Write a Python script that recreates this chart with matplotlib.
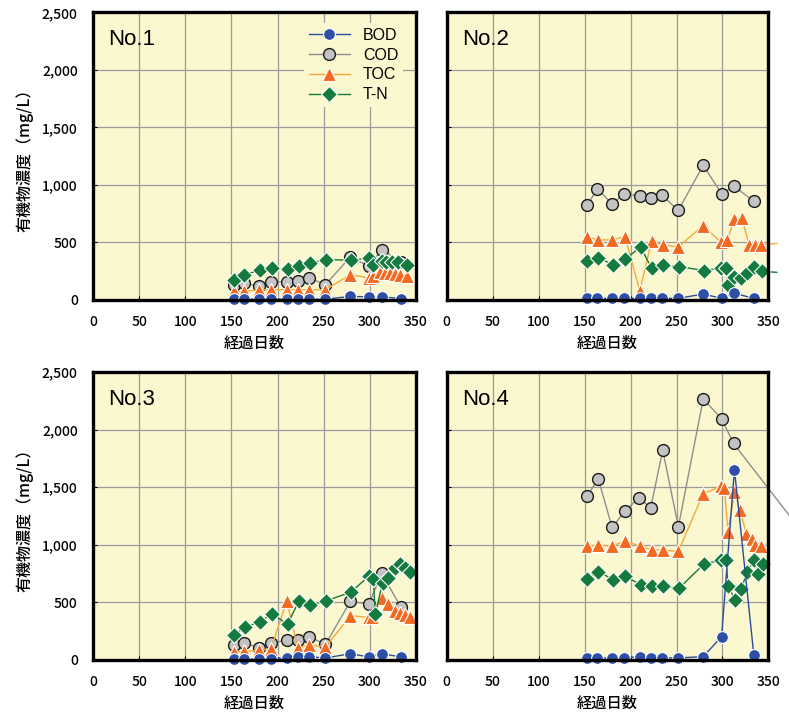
import matplotlib
matplotlib.use("Agg")
import matplotlib.pyplot as plt
from matplotlib.ticker import FuncFormatter, MultipleLocator

plt.rcParams['font.family'] = ['Noto Sans CJK JP', 'DejaVu Sans']

# 経過日数と各項目の濃度 (mg/L)  -- 図から読み取った値
days_a = [153, 164, 180, 193, 210, 222, 234, 252, 279, 299, 313, 334]

# No.1
bod_1 = [5, 5, 5, 5, 5, 5, 5, 5, 28, 25, 25, 10]
cod_1 = [131, 145, 116, 154, 157, 166, 189, 131, 372, 291, 436, 330]
toc_days_1 = [153, 164, 180, 193, 210, 222, 234, 252, 279, 299, 304, 311, 317, 322, 327, 333, 340]
toc_1 = [73, 73, 87, 87, 87, 87, 87, 87, 218, 189, 203, 240, 235, 230, 225, 218, 209]
tn_days_1 = [153, 164, 181, 194, 211, 223, 235, 253, 280, 299, 304, 313, 318, 324, 331, 340]
tn_1 = [174, 218, 256, 276, 267, 297, 320, 349, 343, 363, 305, 334, 330, 330, 330, 305]

# No.2
bod_2 = [12, 12, 12, 12, 12, 12, 12, 12, 49, 12, 55, 12]
cod_2 = [826, 962, 834, 919, 904, 884, 910, 776, 1169, 922, 985, 855]
toc_days_2 = [153, 165, 180, 194, 210, 223, 235, 252, 279, 298, 305, 313, 321, 329, 335, 342, 359]
toc_2 = [544, 520, 520, 549, 78, 509, 477, 459, 645, 500, 515, 703, 709, 477, 477, 477, 490]
tn_days_2 = [153, 165, 181, 194, 211, 223, 235, 253, 280, 298, 304, 306, 313, 320, 327, 334, 343, 359]
tn_2 = [340, 363, 305, 355, 456, 273, 305, 288, 253, 276, 276, 131, 201, 189, 230, 282, 247, 238]

# No.3
bod_3 = [3, 3, 6, 9, 14, 20, 26, 14, 52, 23, 52, 23]
cod_3 = [124, 147, 101, 147, 167, 167, 201, 132, 506, 483, 750, 454]
toc_days_3 = [153, 164, 180, 193, 210, 222, 234, 252, 279, 299, 303, 313, 320, 327, 333, 338, 344]
toc_3 = [66, 72, 80, 95, 511, 101, 129, 109, 382, 368, 368, 532, 483, 425, 405, 388, 368]
tn_days_3 = [153, 165, 181, 194, 211, 223, 235, 253, 280, 299, 304, 306, 314, 320, 327, 333, 338, 344]
tn_3 = [216, 282, 330, 397, 310, 506, 474, 511, 589, 727, 698, 397, 670, 713, 799, 828, 799, 761]

# No.4
bod_4 = [15, 15, 15, 15, 26, 15, 15, 15, 26, 199, 1652, 44]
cod_days_4 = [153, 165, 180, 194, 209, 222, 235, 252, 279, 299, 312, 385]
cod_4 = [1427, 1570, 1149, 1295, 1406, 1322, 1822, 1155, 2266, 2096, 1880, 1126]
toc_days_4 = [153, 165, 180, 194, 210, 223, 235, 252, 279, 298, 302, 306, 313, 319, 326, 332, 335, 342]
toc_4 = [988, 994, 988, 1032, 988, 956, 950, 942, 1442, 1506, 1491, 1111, 1462, 1301, 1091, 1053, 994, 988]
tn_days_4 = [153, 165, 181, 194, 211, 223, 235, 253, 280, 298, 304, 306, 314, 320, 327, 334, 339, 344]
tn_4 = [702, 766, 696, 725, 652, 637, 637, 623, 833, 863, 868, 637, 520, 614, 760, 863, 746, 833]

panels = [
    ("No.1", (days_a, bod_1), (days_a, cod_1), (toc_days_1, toc_1), (tn_days_1, tn_1)),
    ("No.2", (days_a, bod_2), (days_a, cod_2), (toc_days_2, toc_2), (tn_days_2, tn_2)),
    ("No.3", (days_a, bod_3), (days_a, cod_3), (toc_days_3, toc_3), (tn_days_3, tn_3)),
    ("No.4", (days_a, bod_4), (cod_days_4, cod_4), (toc_days_4, toc_4), (tn_days_4, tn_4)),
]

names = ["BOD", "COD", "TOC", "T-N"]
styles = {
    "BOD": dict(color='#2B4C9B', marker='o', mfc='#2E4FA6', mec='white', ms=8.5, mew=0.8, zorder=6),
    "COD": dict(color='#8E8E8E', marker='o', mfc='#C3C3C3', mec='#1A1A1A', ms=8.5, mew=1.0, zorder=3),
    "TOC": dict(color='#F7A83A', marker='^', mfc='#F26A21', mec='white', ms=10, mew=0.8, zorder=4),
    "T-N": dict(color='#15793A', marker='D', mfc='#147A3E', mec='white', ms=8, mew=0.8, zorder=5),
}
bg = '#FBF7CF'

fig = plt.figure(figsize=(7.89, 7.17), dpi=100)
boxes = [
    (0.118, 0.582, 0.409, 0.401),
    (0.566, 0.582, 0.408, 0.401),
    (0.118, 0.080, 0.409, 0.401),
    (0.566, 0.080, 0.408, 0.401),
]

for i, (label, *series) in enumerate(panels):
    ax = fig.add_axes(boxes[i])
    ax.set_facecolor(bg)
    for name, (d, v) in zip(names, series):
        st = styles[name]
        # 350日を超える点は線だけ描く
        shown = [k for k, x in enumerate(d) if x <= 350]
        ax.plot(d, v, linestyle='-', linewidth=1.0, markevery=shown,
                clip_on=False, label=name, **st)
    ax.set_xlim(0, 350)
    ax.set_ylim(0, 2500)
    ax.xaxis.set_major_locator(MultipleLocator(50))
    ax.yaxis.set_major_locator(MultipleLocator(500))
    ax.yaxis.set_major_formatter(FuncFormatter(lambda y, p: f"{int(y):,}"))
    ax.grid(True, color='#9A9A9A', linewidth=0.9)
    ax.set_axisbelow(True)
    for sp in ax.spines.values():
        sp.set_linewidth(2.4)
        sp.set_color('black')
        sp.set_zorder(7)
    ax.tick_params(direction='in', length=3, width=0.8, labelsize=10)
    ax.tick_params(axis='x', pad=11)
    ax.tick_params(axis='y', pad=11)
    for t in ax.get_xticklabels() + ax.get_yticklabels():
        t.set_fontweight('medium')
    if i % 2 == 1:
        ax.tick_params(labelleft=False)
    else:
        ax.set_ylabel("有機物濃度（mg/L）", fontsize=11.5, labelpad=6,
                      fontweight='medium')
    ax.set_xlabel("経過日数", fontsize=11, labelpad=4, fontweight='medium')
    ax.text(0.047, 0.905, label, transform=ax.transAxes, fontsize=16,
            family=['Liberation Sans', 'DejaVu Sans'],
            va='center', ha='left', zorder=8)
    if i == 0:
        leg = ax.legend(loc='upper right', bbox_to_anchor=(0.985, 0.99),
                        frameon=True, handlelength=2.6,
                        prop={'family': ['Liberation Sans', 'DejaVu Sans'], 'size': 11.5},
                        labelspacing=0.3, borderpad=0.3, handletextpad=0.8)
        leg.get_frame().set_facecolor(bg)
        leg.get_frame().set_edgecolor('none')
        leg.get_frame().set_alpha(1)
        leg.set_zorder(9)

fig.savefig("out.png", dpi=100, facecolor='white')
